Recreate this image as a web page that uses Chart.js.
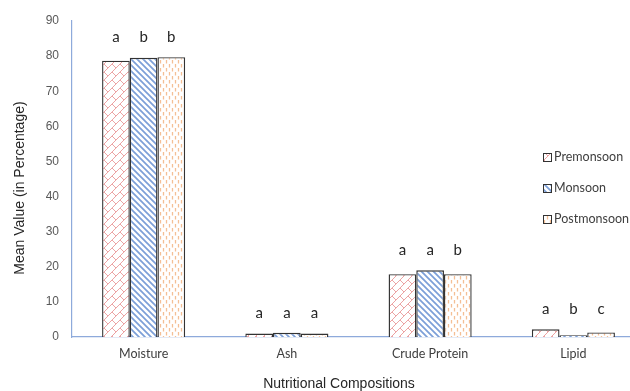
<!DOCTYPE html>
<html>
<head>
<meta charset="utf-8">
<script src="https://cdn.jsdelivr.net/npm/chart.js@4.4.1/dist/chart.umd.min.js"></script>
<style>
  html, body { margin: 0; padding: 0; background: #fff; overflow: hidden; }
  #wrap { width: 660px; height: 391px; }
</style>
</head>
<body>
<div id="wrap"><canvas id="chart" width="660" height="391"></canvas></div>
<script>
// ======================
// DATA
// ======================
const categories = ["Moisture", "Ash", "Crude Protein", "Lipid"];
const seriesNames = ["Premonsoon", "Monsoon", "Postmonsoon"];

const premonsoon  = [78.7, 1.0, 17.9, 2.2];
const monsoon     = [79.5, 1.2, 19.0, 0.5];
const postmonsoon = [79.7, 1.0, 17.9, 1.3];

// significance letters above each bar
const premonsoonLetters  = ["a", "a", "a", "a"];
const monsoonLetters     = ["b", "a", "a", "b"];
const postmonsoonLetters = ["b", "a", "b", "c"];

const yTicks = [0, 10, 20, 30, 40, 50, 60, 70, 80, 90];

const xTitle = "Nutritional Compositions";
const yTitle = "Mean Value (in Percentage)";

// ======================
// PATTERNS
// ======================
function makeTile(w, h, draw) {
  const c = document.createElement("canvas");
  c.width = w;
  c.height = h;
  const g = c.getContext("2d");
  g.fillStyle = "#ffffff";
  g.fillRect(0, 0, w, h);
  draw(g);
  return document.createElement("canvas").getContext("2d").createPattern(c, "repeat");
}

// pink scale-like hatch
const prePattern = makeTile(8, 8, g => {
  g.strokeStyle = "#eca4a4";
  g.lineWidth = 1;
  g.beginPath();
  g.moveTo(0, 8); g.lineTo(8, 0);
  g.moveTo(-4, 4); g.lineTo(4, -4);
  g.moveTo(4, 12); g.lineTo(12, 4);
  g.moveTo(0, 0); g.lineTo(4, 4);
  g.moveTo(4, 8); g.lineTo(6, 10);
  g.stroke();
});

// blue diagonal stripes
const monPattern = makeTile(6, 6, g => {
  g.strokeStyle = "#7c9fd8";
  g.lineWidth = 1.7;
  g.beginPath();
  [-6, 0, 6].forEach(k => {
    g.moveTo(k - 1, -1);
    g.lineTo(k + 7, 7);
  });
  g.stroke();
});

// orange dashed verticals
const postPattern = makeTile(6, 8, g => {
  g.strokeStyle = "#f4bf95";
  g.lineWidth = 1.3;
  g.beginPath();
  g.moveTo(1.5, 0); g.lineTo(1.5, 3.5);
  g.moveTo(4.5, 4); g.lineTo(4.5, 7.5);
  g.stroke();
});

const patterns = [prePattern, monPattern, postPattern];
const letters = [premonsoonLetters, monsoonLetters, postmonsoonLetters];

// ======================
// PLUGINS
// ======================
const lettersPlugin = {
  id: "letters",
  afterDatasetsDraw(chart) {
    const ctx = chart.ctx;
    ctx.save();
    ctx.font = "15px Lato, 'Liberation Sans', sans-serif";
    ctx.fillStyle = "#262626";
    ctx.textAlign = "center";
    ctx.textBaseline = "middle";
    categories.forEach((cat, j) => {
      let top = Infinity;
      chart.data.datasets.forEach((ds, i) => {
        top = Math.min(top, chart.getDatasetMeta(i).data[j].y);
      });
      chart.data.datasets.forEach((ds, i) => {
        const bar = chart.getDatasetMeta(i).data[j];
        ctx.fillText(letters[i][j], bar.x, top - 20);
      });
    });
    ctx.restore();
  }
};

const legendPlugin = {
  id: "customLegend",
  afterDraw(chart) {
    const ctx = chart.ctx;
    const rowsY = [157, 188, 219];
    ctx.save();
    ctx.font = "12.5px Lato, 'Liberation Sans', sans-serif";
    ctx.textBaseline = "middle";
    seriesNames.forEach((name, i) => {
      const y = rowsY[i];
      ctx.fillStyle = patterns[i];
      ctx.fillRect(543, y - 4, 8, 8);
      ctx.strokeStyle = "#333333";
      ctx.lineWidth = 1;
      ctx.strokeRect(543.5, y - 3.5, 8, 8);
      ctx.fillStyle = "#404040";
      ctx.fillText(name, 554, y);
    });
    ctx.restore();
  }
};

const titlesPlugin = {
  id: "axisTitles",
  afterDraw(chart) {
    const ctx = chart.ctx;
    ctx.save();
    ctx.font = "14px 'Liberation Sans', Arial, sans-serif";
    ctx.fillStyle = "#262626";
    ctx.textAlign = "center";
    ctx.textBaseline = "middle";
    ctx.fillText(xTitle, 339, 384);
    ctx.translate(20, 188);
    ctx.rotate(-Math.PI / 2);
    ctx.fillText(yTitle, 0, 0);
    ctx.restore();
  }
};

// ======================
// CHART
// ======================
const seriesData = [premonsoon, monsoon, postmonsoon];

new Chart(document.getElementById("chart"), {
  type: "bar",
  data: {
    labels: categories,
    datasets: seriesNames.map((name, i) => ({
      label: name,
      data: seriesData[i],
      backgroundColor: patterns[i],
      borderColor: "#333333",
      borderWidth: 1.4,
      categoryPercentage: 0.58,
      barPercentage: 1
    }))
  },
  options: {
    responsive: false,
    devicePixelRatio: 1,
    animation: false,
    layout: { padding: { top: 21, right: 15, left: 0, bottom: 0 } },
    plugins: {
      legend: { display: false },
      tooltip: { enabled: false }
    },
    scales: {
      x: {
        grid: { display: false, drawTicks: false },
        border: { display: true, color: "#8eaadb", width: 1.2 },
        ticks: {
          color: "#404040",
          font: { family: "Lato, 'Liberation Sans', sans-serif", size: 12.5 },
          padding: 9
        },
        afterFit(scale) { scale.height = 54; }
      },
      y: {
        min: 0,
        max: 90,
        grid: { display: false, drawTicks: false },
        border: { display: true, color: "#8eaadb", width: 1.2 },
        afterBuildTicks(scale) {
          scale.ticks = yTicks.map(v => ({ value: v }));
        },
        ticks: {
          color: "#595959",
          font: { family: "'Liberation Sans', Arial, sans-serif", size: 12 },
          padding: 13
        },
        afterFit(scale) { scale.width = 72; }
      }
    }
  },
  plugins: [lettersPlugin, legendPlugin, titlesPlugin]
});
</script>
</body>
</html>
